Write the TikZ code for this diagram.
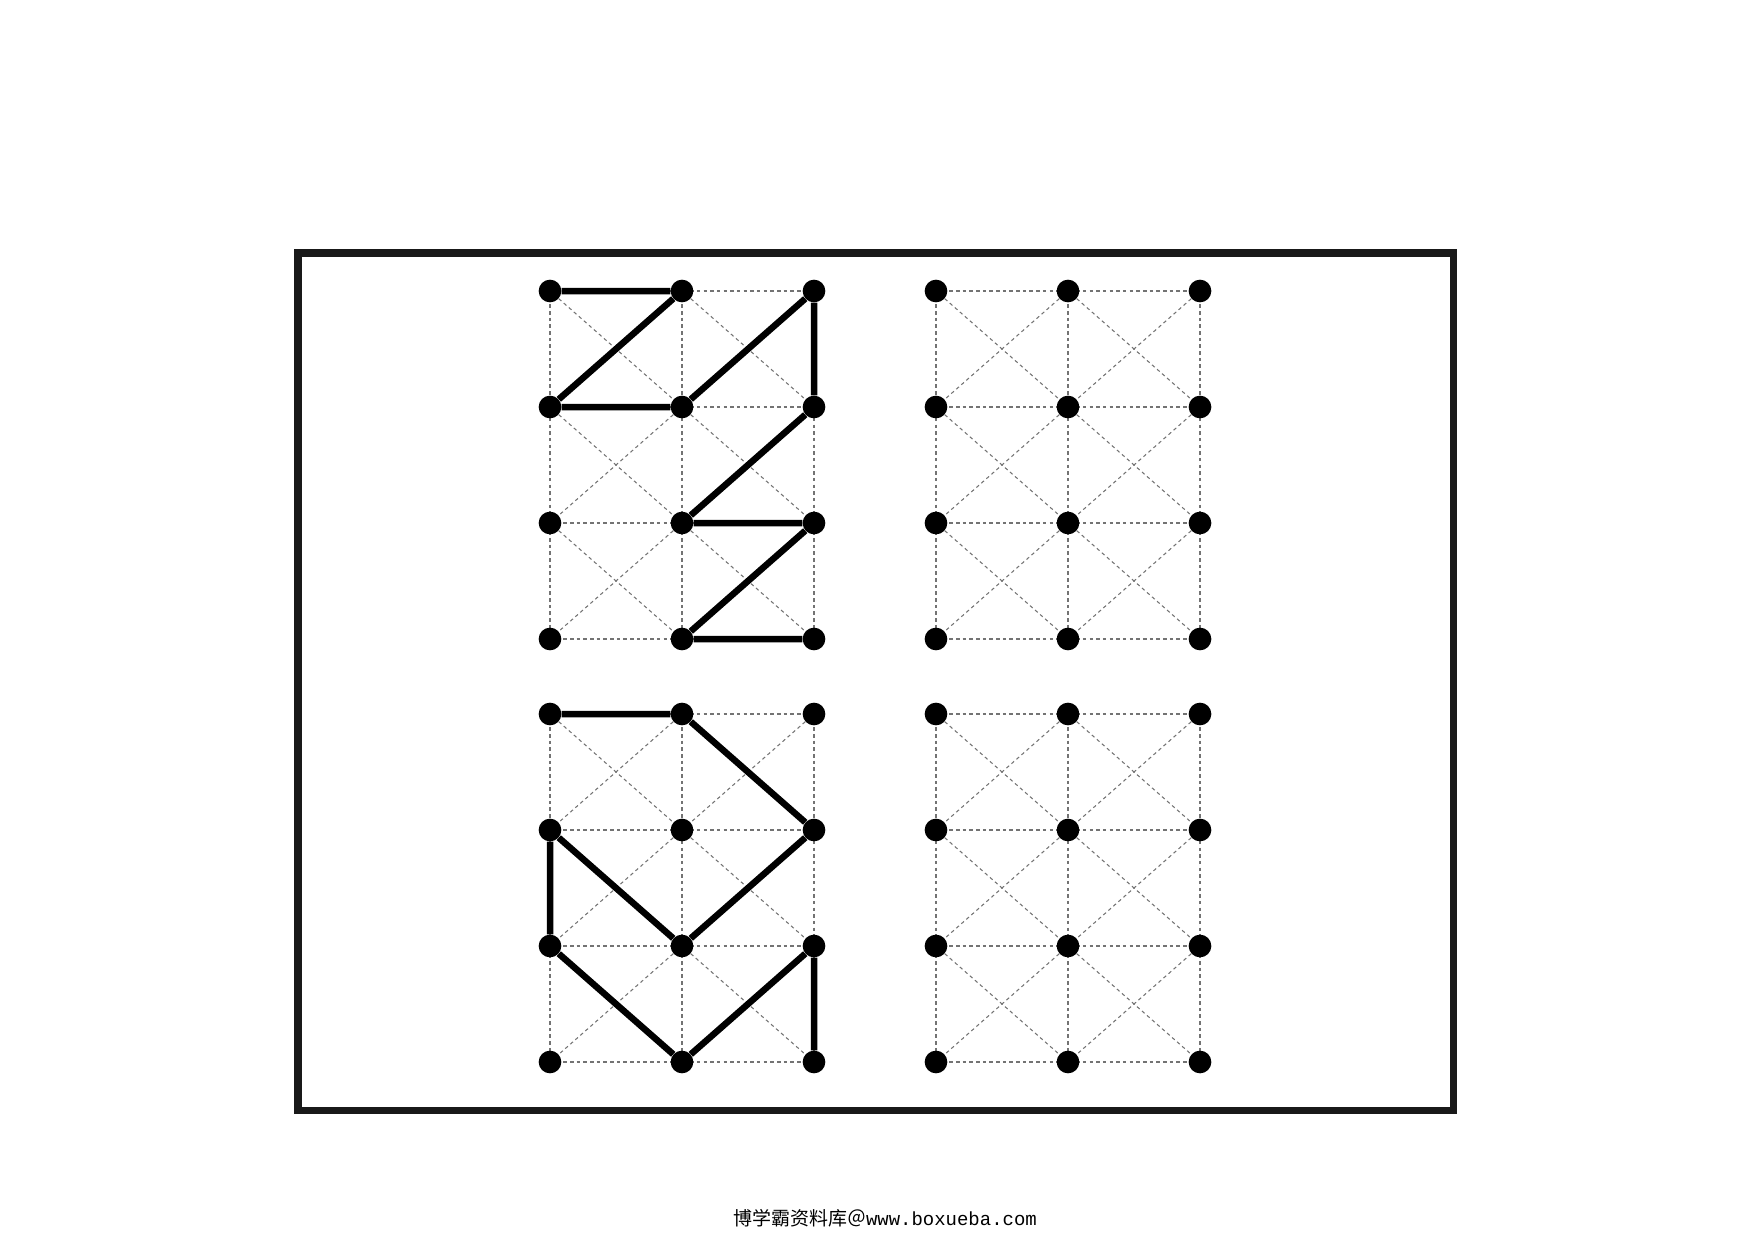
\documentclass[tikz,border=0pt]{standalone}
\usepackage{fontspec}
\newfontfamily\cjkfont{Noto Sans CJK SC}
\setmonofont{Liberation Mono}
\usetikzlibrary{shapes,backgrounds}

\begin{document}
\begin{tikzpicture}[x=0.02cm,y=-0.02cm,
	dot/.style={circle,fill=black,inner sep=0pt,minimum size=12.9pt},
	gridline/.style={draw=gray!90!black,line width=0.6pt,dash pattern=on 2pt off 1.8pt},
	route/.style={line width=3.7pt},
	frame/.style={line width=4pt,draw=black!90}]
	\useasboundingbox (0,0) rectangle (1753,1240);
	\draw[frame] (298,253) rectangle (1453,1110);
	% dots of the four panels
	\foreach \p/\ox/\oy in {a/550/291, b/936/291, c/550/714, d/936/714}
		\foreach \i in {0,1,2}
			\foreach \j in {0,1,2,3}
				\node[dot] (\p-\i-\j) at (\ox+\i*132,\oy+\j*116) {};
	% dashed grid with crosses
	\begin{scope}[on background layer]
	\foreach \p in {a,b,c,d} {
		\foreach \i in {0,1,2} \draw[gridline] (\p-\i-0.center) -- (\p-\i-3.center);
		\foreach \j in {0,1,2,3} \draw[gridline] (\p-0-\j.center) -- (\p-2-\j.center);
		\foreach \i/\k in {0/1,1/2}
			\foreach \j/\m in {0/1,1/2,2/3} {
				\draw[gridline] (\p-\i-\j) -- (\p-\k-\m);
				\draw[gridline] (\p-\k-\j) -- (\p-\i-\m);
			}
	}
	\end{scope}
	\draw[route] (a-0-0) -- (a-1-0) -- (a-0-1) -- (a-1-1) -- (a-2-0) -- (a-2-1)
		-- (a-1-2) -- (a-2-2) -- (a-1-3) -- (a-2-3);
	\draw[route] (c-0-0) -- (c-1-0) -- (c-2-1) -- (c-1-2) -- (c-0-1) -- (c-0-2)
		-- (c-1-3) -- (c-2-2) -- (c-2-3);
	\node (site) at (885,1218) {\fontsize{10.8}{13}\selectfont\cjkfont 博学霸资料库＠\ttfamily www.boxueba.com};
\end{tikzpicture}
\end{document}
